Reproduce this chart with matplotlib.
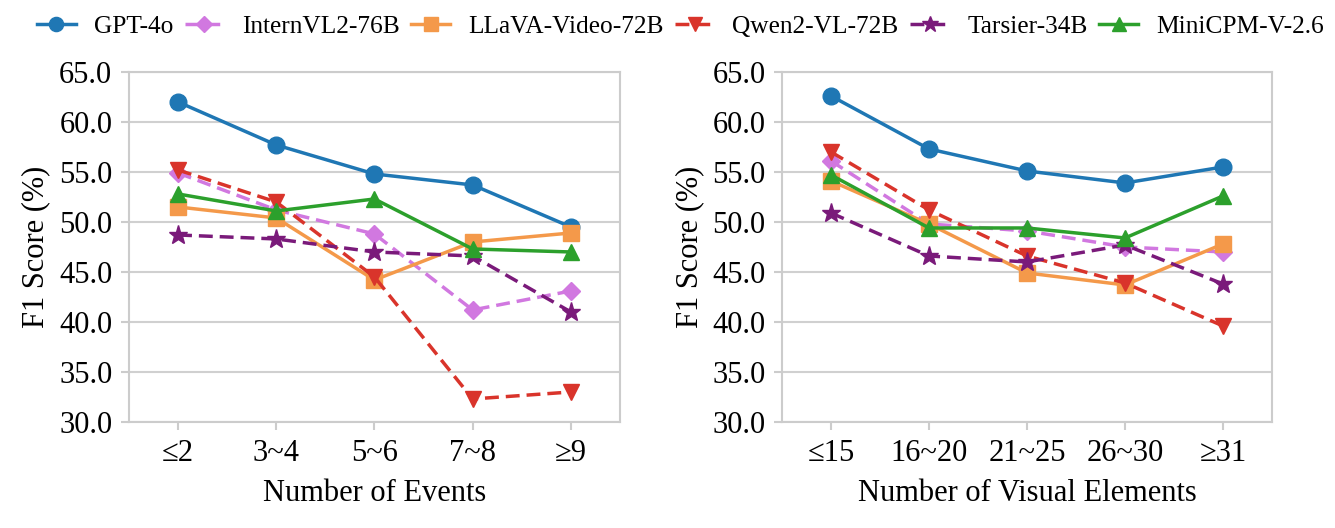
import numpy as np
import matplotlib
matplotlib.use("Agg")
import matplotlib.pyplot as plt

plt.rcParams['font.family'] = ['Liberation Serif', 'DejaVu Serif']

models = ["GPT-4o", "InternVL2-76B", "LLaVA-Video-72B", "Qwen2-VL-72B", "Tarsier-34B", "MiniCPM-V-2.6"]

events_labels = ["≤2", "3~4", "5~6", "7~8", "≥9"]
elements_labels = ["≤15", "16~20", "21~25", "26~30", "≥31"]

# F1 scores by number of events
gpt4o_ev = [62.0, 57.7, 54.8, 53.7, 49.5]
internvl_ev = [54.9, 51.2, 48.8, 41.2, 43.1]
llava_ev = [51.5, 50.4, 44.2, 48.0, 48.9]
qwen_ev = [55.2, 52.0, 44.5, 32.3, 33.0]
tarsier_ev = [48.7, 48.3, 47.0, 46.6, 41.0]
minicpm_ev = [52.8, 51.1, 52.3, 47.3, 47.0]

# F1 scores by number of visual elements
gpt4o_el = [62.6, 57.3, 55.1, 53.9, 55.5]
internvl_el = [56.1, 49.8, 49.1, 47.5, 47.0]
llava_el = [54.1, 49.8, 44.9, 43.7, 47.8]
qwen_el = [57.0, 51.2, 46.6, 43.9, 39.6]
tarsier_el = [50.9, 46.6, 46.0, 47.7, 43.8]
minicpm_el = [54.7, 49.4, 49.4, 48.4, 52.6]

styles = [
    dict(color="#1f77b4", marker="o", linestyle="-", markersize=12),
    dict(color="#d178e0", marker="D", linestyle="--", markersize=9),
    dict(color="#f4994a", marker="s", linestyle="-", markersize=12),
    dict(color="#d9342b", marker="v", linestyle="--", markersize=12),
    dict(color="#7a1a7a", marker="*", linestyle="--", markersize=14),
    dict(color="#2ca02c", marker="^", linestyle="-", markersize=12),
]

fig = plt.figure(figsize=(13.35, 5.28), dpi=100)
ax1 = fig.add_axes([0.0966, 0.2008, 0.3678, 0.6629])
ax2 = fig.add_axes([0.5858, 0.2008, 0.3670, 0.6629])

panels = [
    (ax1, [gpt4o_ev, internvl_ev, llava_ev, qwen_ev, tarsier_ev, minicpm_ev], events_labels, "Number of Events"),
    (ax2, [gpt4o_el, internvl_el, llava_el, qwen_el, tarsier_el, minicpm_el], elements_labels, "Number of Visual Elements"),
]

for ax, series, labels, xlabel in panels:
    x = np.arange(len(labels))
    for name, vals, st in zip(models, series, styles):
        ax.plot(x, vals, label=name, linewidth=2.5, dashes=(4, 2) if st["linestyle"] == "--" else (None, None), **st)
    ax.set_xlim(-0.5, len(labels) - 0.5)
    ax.set_ylim(30, 65)
    ax.set_yticks(np.arange(30, 66, 5))
    ax.set_yticklabels(["%.1f" % v for v in np.arange(30, 66, 5)])
    ax.set_xticks(x)
    ax.set_xticklabels(labels)
    ax.yaxis.grid(True, color="#d0d0d0", linewidth=1.5)
    ax.set_axisbelow(True)
    for sp in ax.spines.values():
        sp.set_color("#cccccc")
        sp.set_linewidth(1.5)
    ax.tick_params(axis="both", labelsize=22, color="#cccccc", width=1.5, length=6, pad=6)
    ax.set_xlabel(xlabel, fontsize=22, labelpad=8)
    ax.set_ylabel("F1 Score (%)", fontsize=22, labelpad=6)

handles, lbls = ax1.get_legend_handles_labels()
fig.legend(handles, lbls, loc="upper center", bbox_to_anchor=(0.5095, 1.015), ncol=6, frameon=False,
           fontsize=18.3, handlelength=1.55, columnspacing=0.45, handletextpad=0.7, markerscale=0.85)

fig.savefig("out.png", dpi=100)
